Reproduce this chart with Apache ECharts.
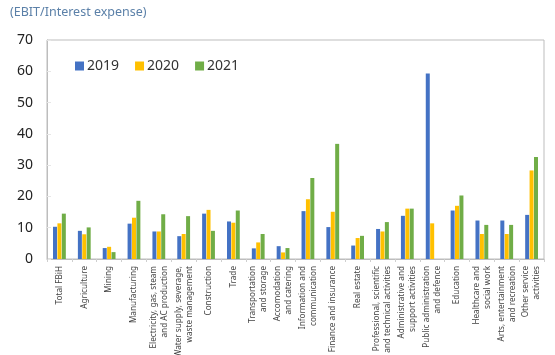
<!DOCTYPE html>
<html>
<head>
<meta charset="utf-8">
<script src="https://cdn.jsdelivr.net/npm/echarts@6/dist/echarts.min.js"></script>
<style>
  html, body { margin: 0; padding: 0; background: #fff; }
  #chart { width: 555px; height: 355px; }
</style>
</head>
<body>
<div id="chart"></div>
<script>
// sectors (x axis)
var categories = [
  'Total FBiH', 'Agriculture', 'Mining', 'Manufacturing',
  'Electricity, gas, steam\nand AC production',
  'Water supply, severage,\nwaste management',
  'Construction', 'Trade', 'Transportation\nand storage',
  'Accomodation\nand catering', 'Information and\ncommunication',
  'Finance and insurance', 'Real estate',
  'Professional, scientific\nand technical activities',
  'Administrative and\nsupport activities',
  'Public administration\nand defence', 'Education',
  'Healthcare and\nsocial work', 'Arts, entertainment\nand recreation',
  'Other service\nactivities'
];

var years = ['2019', '2020', '2021'];

// EBIT / interest expense
var values2019 = [10.3, 9.0, 3.5, 11.3, 8.8, 7.3, 14.5, 12.0, 3.4, 4.1, 15.3, 10.2, 4.3, 9.6, 13.8, 59.3, 15.5, 12.3, 12.3, 14.1];
var values2020 = [11.4, 7.9, 3.9, 13.2, 8.8, 8.0, 15.7, 11.6, 5.3, 2.1, 19.1, 15.1, 6.7, 8.8, 16.1, 11.4, 17.0, 8.0, 8.0, 28.3];
var values2021 = [14.5, 10.1, 2.2, 18.6, 14.3, 13.7, 9.0, 15.5, 8.0, 3.5, 25.9, 36.8, 7.4, 11.8, 16.1, 0, 20.3, 10.9, 10.9, 32.6];

var yTicks = [0, 10, 20, 30, 40, 50, 60, 70];

var colors = ['#4472c4', '#ffc000', '#70ad47'];

var chart = echarts.init(document.getElementById('chart'));

function mkSeries(name, data) {
  return {
    name: name,
    type: 'bar',
    data: data,
    barWidth: 4,
    barGap: '10%'
  };
}

var option = {
  animation: false,
  backgroundColor: '#fff',
  color: colors,
  textStyle: { fontFamily: 'Noto Sans' },
  title: {
    text: '(EBIT/Interest expense)',
    left: 10,
    top: 6,
    padding: 0,
    textStyle: { fontSize: 12.5, fontWeight: 'normal', color: '#5b80a8', fontFamily: 'Noto Sans' }
  },
  legend: {
    left: 70,
    top: 54,
    itemWidth: 9,
    itemHeight: 9,
    itemGap: 16,
    icon: 'rect',
    textStyle: { fontSize: 14, color: '#333', padding: [0, 0, 0, -2] },
    data: years
  },
  grid: {
    left: 47,
    right: 11,
    top: 40,
    bottom: 96,
    outerBoundsMode: 'none',
    containLabel: false,
    show: true,
    borderColor: '#bdbdbd',
    borderWidth: 1
  },
  xAxis: {
    type: 'category',
    data: categories,
    axisLine: { lineStyle: { color: '#bdbdbd' } },
    axisTick: { show: true, alignWithLabel: false, length: 3, lineStyle: { color: '#cfcfcf' } },
    axisLabel: {
      interval: 0,
      rotate: 90,
      fontSize: 8.2,
      lineHeight: 11,
      color: '#444',
      margin: 7
    }
  },
  yAxis: {
    type: 'value',
    min: 0,
    max: 70,
    interval: 10,
    splitLine: { show: false },
    axisLine: { show: true, lineStyle: { color: '#bdbdbd' } },
    axisTick: { show: true, inside: true, length: 4, lineStyle: { color: '#e6e6e6' } },
    axisLabel: {
      fontSize: 14,
      color: '#222',
      margin: 14,
      formatter: function (v) { return yTicks.indexOf(v) >= 0 ? String(v) : ''; }
    }
  },
  series: [
    mkSeries(years[0], values2019),
    mkSeries(years[1], values2020),
    mkSeries(years[2], values2021)
  ]
};

chart.setOption(option);
</script>
</body>
</html>
